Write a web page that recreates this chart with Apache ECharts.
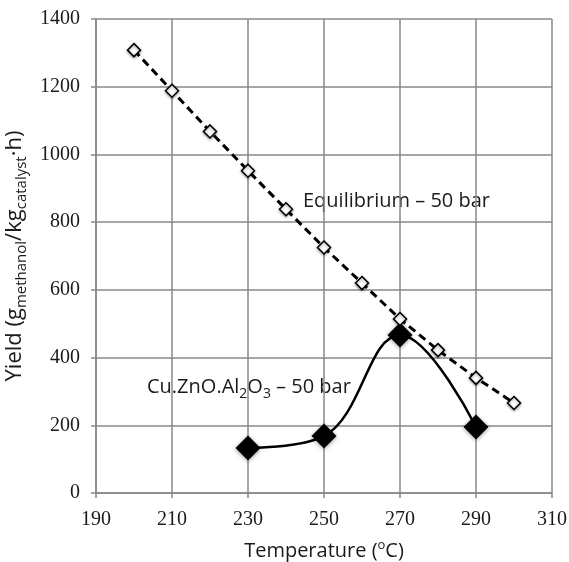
<!DOCTYPE html>
<html><head><meta charset="utf-8">
<script src="https://cdn.jsdelivr.net/npm/echarts@6/dist/echarts.min.js"></script>
<style>html,body{margin:0;padding:0;background:#fff}#c{width:569px;height:562px}</style>
</head><body><div id="c"></div>
<script>
const eqTemps = [200,210,220,230,240,250,260,270,280,290,300];
const eqYield = [1308,1188,1068,952,838,725,620,514,422,340,266];
const cuTemps = [230,250,270,290];
const cuYield = [133,168,467,195];
const xTicks = {min:190,max:310,interval:20};
const yTicks = {min:0,max:1400,interval:200};

const chart = echarts.init(document.getElementById('c'));
const serif = 'Liberation Serif';
const sans = 'Open Sans';
const txt = '#1a1a1a';
chart.setOption({
  animation:false,
  grid:{left:96,right:17,top:19,bottom:69,outerBoundsMode:'none',containLabel:false},
  xAxis:{type:'value',min:xTicks.min,max:xTicks.max,interval:xTicks.interval,
    axisLine:{show:true,lineStyle:{color:'#888',width:1.5}},
    axisTick:{show:true,length:5,lineStyle:{color:'#888',width:1.5}},
    splitLine:{show:true,lineStyle:{color:'#888',width:1.5}},
    axisLabel:{fontFamily:serif,fontSize:20,color:txt,margin:17,formatter:v=>String(v)},
    name:'{m|Temperature (}{sup|o}{m|C)}',nameLocation:'middle',nameGap:46,
    nameTextStyle:{rich:{m:{fontFamily:sans,fontSize:20,color:txt,lineHeight:24},sup:{fontFamily:sans,fontSize:13,color:txt,verticalAlign:'top',lineHeight:24}}}
  },
  yAxis:{type:'value',min:yTicks.min,max:yTicks.max,interval:yTicks.interval,
    axisLine:{show:true,lineStyle:{color:'#888',width:1.5}},
    axisTick:{show:true,length:5,lineStyle:{color:'#888',width:1.5}},
    splitLine:{show:true,lineStyle:{color:'#888',width:1.5}},
    axisLabel:{fontFamily:serif,fontSize:20,color:txt,margin:16,formatter:v=>String(v)},
    name:'{m|Yield (g}{sub|methanol}{m|/kg}{sub|catalyst}{m|·h)}',nameLocation:'middle',nameGap:56,nameRotate:90,
    nameTextStyle:{rich:{m:{fontFamily:sans,fontSize:22,color:txt,lineHeight:28},sub:{fontFamily:sans,fontSize:15,color:txt,verticalAlign:'bottom',lineHeight:28}}}
  },
  series:[
    {type:'line',data:eqTemps.map((t,i)=>[t,eqYield[i]]),
     lineStyle:{color:'#000',width:3,type:[8,5]},
     symbol:'diamond',symbolSize:13,
     itemStyle:{color:'#fff',borderColor:'#000',borderWidth:1.5,shadowBlur:3,shadowColor:'rgba(0,0,0,0.4)',shadowOffsetY:1},
     z:3},
    {type:'line',smooth:0.4,data:cuTemps.map((t,i)=>[t,cuYield[i]]),
     lineStyle:{color:'#000',width:2.5},
     symbol:'diamond',symbolSize:25,
     itemStyle:{color:'#000',shadowBlur:4,shadowColor:'rgba(0,0,0,0.4)',shadowOffsetY:1},
     z:2}
  ],
  graphic:[
    {type:'text',left:303,top:191,style:{text:'Equilibrium – 50 bar',font:'20px "Open Sans"',fill:txt}},
    {type:'text',left:147,top:377,style:{text:'{m|Cu.ZnO.Al}{sub|2}{m|O}{sub|3}{m| – 50 bar}',rich:{m:{fontFamily:sans,fontSize:20,fill:txt,lineHeight:28},sub:{fontFamily:sans,fontSize:14,fill:txt,verticalAlign:'bottom',lineHeight:28}}}}
  ]
});
</script></body></html>
